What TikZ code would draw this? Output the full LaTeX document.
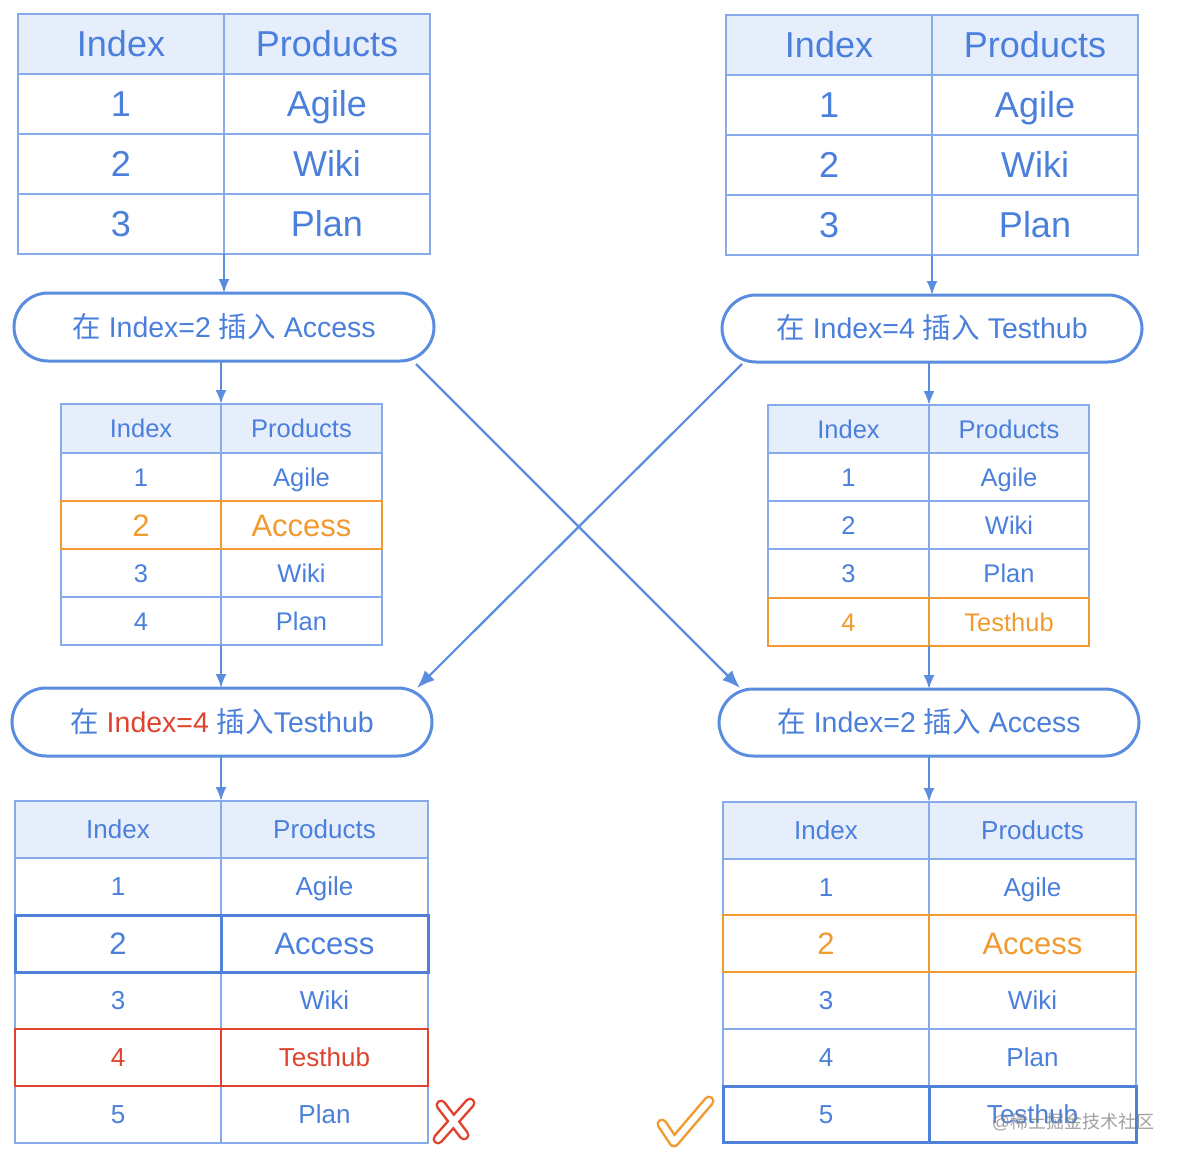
\documentclass[tikz,border=0pt]{standalone}
\usepackage{fontspec}
\setmainfont{Liberation Sans}
\newfontfamily\cjk{Noto Sans CJK SC}
\usetikzlibrary{arrows.meta,calc}
\definecolor{tblue}{HTML}{4A7FDB}
\definecolor{lblue}{HTML}{86AAEA}
\definecolor{dblue}{HTML}{4F81D9}
\definecolor{hfill}{HTML}{E6EEFC}
\definecolor{pblue}{HTML}{5A8CE0}
\definecolor{xorange}{HTML}{F09A30}
\definecolor{xred}{HTML}{E0432D}
\tikzset{
  cell/.style={draw=lblue, line width=2.5pt, inner sep=0pt, outer sep=0pt, text=tblue,
    text depth=0pt},
  big/.style={font=\fontsize{36}{40}\selectfont, text height=25pt},
  mid/.style={font=\fontsize{25.5}{29}\selectfont, text height=18pt},
  midl/.style={font=\fontsize{31}{35}\selectfont, text height=22pt},
  low/.style={font=\fontsize{26}{30}\selectfont, text height=18.5pt},
  lowl/.style={font=\fontsize{31}{35}\selectfont, text height=22pt},
  head/.style={fill=hfill},
  orng/.style={draw=xorange, text=xorange},
  redr/.style={draw=xred, text=xred},
  dark/.style={draw=dblue, line width=3pt},
  pill/.style={draw=pblue, line width=3pt, rounded corners=34pt, text=tblue,
    font=\fontsize{28.5}{32}\selectfont, inner sep=0pt, outer sep=0pt, fill=white,
    minimum width=420pt, text height=20.5pt, text depth=0pt},
  conn/.style={draw=pblue, line width=2pt, -{Latex[length=14pt,width=11pt]}},
  xconn/.style={draw=pblue, line width=2.2pt, -{Latex[length=18pt,width=14pt]}},
  markout/.style={line width=11pt, line cap=round, line join=round},
  markin/.style={draw=white, line width=6pt, line cap=round, line join=round},
}
% name, x0, xs, x1, y0, y1, style, left, right
\newcommand\trow[9]{%
  \node[cell,#7,minimum width={#3-#2},minimum height={#6-#5},anchor=north west] (#1a) at (#2,#5) {#8};
  \node[cell,#7,minimum width={#4-#3},minimum height={#6-#5},anchor=north west] (#1b) at (#3,#5) {#9};}
\begin{document}
\begin{tikzpicture}[x=1pt,y=-1pt]
\useasboundingbox (0,0) rectangle (1182,1162);
% ---- Table 1 (top left)
\trow{t1h}{18}{224}{430}{14}{74}{big,head}{Index}{Products}
\trow{t1r1}{18}{224}{430}{74}{134}{big}{1}{Agile}
\trow{t1r2}{18}{224}{430}{134}{194}{big}{2}{Wiki}
\trow{t1r3}{18}{224}{430}{194}{254}{big}{3}{Plan}
% ---- Table 2 (top right)
\trow{t2h}{726}{932}{1138}{15}{75}{big,head}{Index}{Products}
\trow{t2r1}{726}{932}{1138}{75}{135}{big}{1}{Agile}
\trow{t2r2}{726}{932}{1138}{135}{195}{big}{2}{Wiki}
\trow{t2r3}{726}{932}{1138}{195}{255}{big}{3}{Plan}
% ---- Pills top
\node[pill,minimum height=68pt] (p1) at (224,327) {{\cjk 在} Index=2 {\cjk 插入} Access};
\node[pill,minimum height=67pt] (p2) at (932,328.5) {{\cjk 在} Index=4 {\cjk 插入} Testhub};
% ---- Table 3 (middle left)
\trow{t3h}{61}{221}{382}{404}{453}{mid,head}{Index}{Products}
\trow{t3r1}{61}{221}{382}{453}{501}{mid}{1}{Agile}
\trow{t3r3}{61}{221}{382}{549}{597}{mid}{3}{Wiki}
\trow{t3r4}{61}{221}{382}{597}{645}{mid}{4}{Plan}
\trow{t3r2}{61}{221}{382}{501}{549}{midl,orng}{2}{Access}
% ---- Table 4 (middle right)
\trow{t4h}{768}{929}{1089}{405}{453}{mid,head}{Index}{Products}
\trow{t4r1}{768}{929}{1089}{453}{501}{mid}{1}{Agile}
\trow{t4r2}{768}{929}{1089}{501}{549}{mid}{2}{Wiki}
\trow{t4r3}{768}{929}{1089}{549}{598}{mid}{3}{Plan}
\trow{t4r4}{768}{929}{1089}{598}{646}{mid,orng}{4}{Testhub}
% ---- Pills bottom
\node[pill,minimum height=68pt] (p3) at (222,722) {{\cjk 在} \textcolor{xred}{Index=4} {\cjk 插入}Testhub};
\node[pill,minimum height=67pt] (p4) at (929,722.5) {{\cjk 在} Index=2 {\cjk 插入} Access};
% ---- Table 5 (bottom left)
\trow{t5h}{15}{221}{428}{801}{858}{low,head}{Index}{Products}
\trow{t5r1}{15}{221}{428}{858}{915}{low}{1}{Agile}
\trow{t5r3}{15}{221}{428}{972}{1029}{low}{3}{Wiki}
\trow{t5r5}{15}{221}{428}{1086}{1143}{low}{5}{Plan}
\trow{t5r2}{15}{221}{428}{915}{972}{lowl,dark}{2}{Access}
\trow{t5r4}{15}{221}{428}{1029}{1086}{low,redr}{4}{Testhub}
% ---- Table 6 (bottom right)
\trow{t6h}{723}{929}{1136}{802}{859}{low,head}{Index}{Products}
\trow{t6r1}{723}{929}{1136}{859}{915}{low}{1}{Agile}
\trow{t6r3}{723}{929}{1136}{972}{1029}{low}{3}{Wiki}
\trow{t6r4}{723}{929}{1136}{1029}{1086}{low}{4}{Plan}
\trow{t6r2}{723}{929}{1136}{915}{972}{lowl,orng}{2}{Access}
\trow{t6r5}{723}{929}{1136}{1086}{1142}{low,dark}{5}{Testhub}
% ---- Connectors
\draw[conn] (t1r3a.south east) -- (p1.north);
\draw[conn] (p1.south -| t3ha.north east) -- (t3ha.north east);
\draw[conn] (t3r4a.south east) -- (t3r4a.south east |- p3.north);
\draw[conn] (p3.south -| t5ha.north east) -- (t5ha.north east);
\draw[conn] (t2r3a.south east) -- (p2.north);
\draw[conn] (p2.south -| t4ha.north east) -- (t4ha.north east);
\draw[conn] (t4r4a.south east) -- (p4.north);
\draw[conn] (p4.south) -- (t6ha.north east);
\coordinate (c1s) at ($(p1.south east)+(-18,3)$);
\coordinate (c1e) at ($(p4.north west)+(21,-1)$);
\coordinate (c2s) at ($(p2.south west)+(20,2)$);
\coordinate (c2e) at ($(p3.north east)+(-15,0)$);
\draw[xconn] (c1s) -- (c1e);
\draw[xconn] (c2s) -- (c2e);
% ---- Marks
\draw[markout, xred] (441,1105) -- (464,1135) (470,1103) -- (438,1139);
\draw[markin] (441,1105) -- (464,1135) (470,1103) -- (438,1139);
\draw[markout, xorange] (662,1124) -- (674,1142) -- (709,1101);
\draw[markin] (662,1124) -- (674,1142) -- (709,1101);
% ---- Watermark
\node[text=gray, opacity=0.75, font=\fontsize{18}{20}\selectfont, inner sep=0pt] (wm) at (1073,1122) {@{\cjk 稀土掘金技术社区}};
\end{tikzpicture}
\end{document}
